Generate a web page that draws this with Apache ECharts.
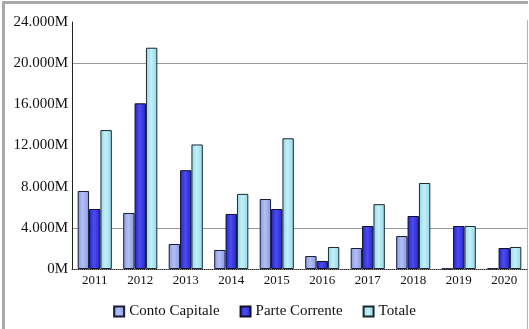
<!DOCTYPE html>
<html>
<head>
<meta charset="utf-8">
<script src="https://cdn.jsdelivr.net/npm/echarts@6/dist/echarts.min.js"></script>
<style>
  html, body { margin: 0; padding: 0; background: #fff; }
  .frame {
    position: absolute; left: 2px; top: 1px; width: 526px; height: 328px;
    border-left: 3px solid #a8a8a8; border-top: 3px solid #a8a8a8;
    box-sizing: border-box;
  }
  .edge {
    position: absolute; left: 527px; top: 20px; width: 1px; height: 309px;
    background: #b4b4b4;
  }
  #chart { position: absolute; left: 0; top: 0; width: 529px; height: 329px; }
</style>
</head>
<body>
<div class="frame"></div>
<div class="edge"></div>
<div id="chart"></div>
<script>
// values in millions
const years = ['2011', '2012', '2013', '2014', '2015', '2016', '2017', '2018', '2019', '2020'];
const contoCapitale = [7.58, 5.44, 2.43, 1.85, 6.8, 1.26, 2.04, 3.2, 0.03, 0.06];
const parteCorrente = [5.83, 16.1, 9.6, 5.35, 5.83, 0.78, 4.18, 5.15, 4.18, 2.04];
const totale = [13.5, 21.5, 12.1, 7.3, 12.7, 2.14, 6.3, 8.36, 4.18, 2.14];

function grad(dark, light) {
  return new echarts.graphic.LinearGradient(0, 0, 1, 0, [
    { offset: 0, color: dark },
    { offset: 0.45, color: light },
    { offset: 1, color: dark }
  ]);
}

const serif = 'Liberation Serif';
const none = 'rgba(0,0,0,0)';
let chart = echarts.init(document.getElementById('chart'));
chart.setOption({
  animation: false,
  grid: { left: 72, right: 2, top: 22, bottom: 60 },
  legend: {
    bottom: 5,
    left: 'center',
    itemWidth: 10,
    itemHeight: 10,
    itemGap: 20,
    icon: 'rect',
    textStyle: { fontFamily: serif, fontSize: 15, color: '#111' },
    data: ['Conto Capitale', 'Parte Corrente', 'Totale']
  },
  xAxis: {
    type: 'category',
    data: years,
    axisLine: { lineStyle: { color: '#333', type: 'dotted', width: 1 } },
    axisTick: { show: false },
    axisLabel: { fontFamily: serif, fontSize: 13, color: '#111', margin: 5 }
  },
  yAxis: {
    type: 'value',
    min: 0,
    max: 24,
    interval: 4,
    axisLine: { show: true, lineStyle: { color: '#222' } },
    axisTick: { show: false },
    axisLabel: {
      fontFamily: serif, fontSize: 15, color: '#111', margin: 4,
      formatter: v => v === 0 ? '0M' : v + '.000M'
    },
    splitLine: {
      show: true,
      lineStyle: { color: [none, '#9a9a9a', none, none, none, '#9a9a9a', none] }
    }
  },
  series: [
    {
      name: 'Conto Capitale', type: 'bar', data: contoCapitale,
      barGap: '0%', barCategoryGap: '25%',
      itemStyle: { color: grad('#8797e2', '#b3c0f4'), borderColor: '#1a1a3a', borderWidth: 1 }
    },
    {
      name: 'Parte Corrente', type: 'bar', data: parteCorrente,
      itemStyle: { color: grad('#2424c8', '#4c4cf2'), borderColor: '#10102a', borderWidth: 1 }
    },
    {
      name: 'Totale', type: 'bar', data: totale,
      itemStyle: { color: grad('#92d6e8', '#c2f0f8'), borderColor: '#1a2a30', borderWidth: 1 }
    }
  ]
});
</script>
</body>
</html>
